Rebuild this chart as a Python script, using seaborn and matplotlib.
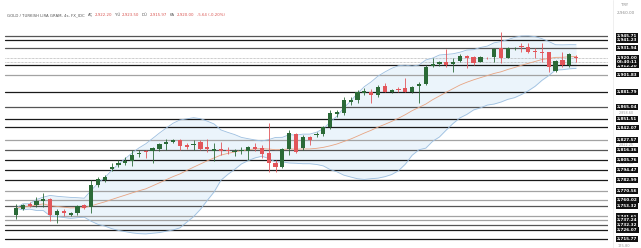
import matplotlib
matplotlib.use("Agg")
import matplotlib.pyplot as plt
import matplotlib.transforms as mtransforms
from matplotlib.lines import Line2D
import numpy as np
import pandas as pd
import seaborn as sns

# ---------------- data ----------------
opens = [2743.2, 2750.3, 2755.2, 2754.1, 2759.3, 2760.9, 2743.2, 2747.3, 2743.5, 2745.1,
         2754.1, 2751.9, 2776.7, 2782.7, 2794.8, 2799.7, 2801.6, 2803.8, 2811.7, 2815.8,
         2815.8, 2818.1, 2823.7, 2826.0, 2827.9, 2821.9, 2822.6, 2826.0, 2819.7, 2815.8,
         2817.4, 2816.6, 2814.3, 2815.1, 2815.8, 2819.7, 2818.5, 2812.9, 2801.6, 2797.1,
         2817.4, 2834.7, 2818.5, 2831.0, 2833.2, 2834.3, 2842.3, 2857.3, 2858.8, 2871.2,
         2873.1, 2881.0, 2882.5, 2878.2, 2889.3, 2882.5, 2885.5, 2886.3, 2881.8, 2888.6,
         2890.8, 2911.2, 2913.4, 2915.7, 2913.4, 2917.2, 2922.5, 2921.7, 2916.4, 2920.9,
         2921.7, 2931.5, 2920.9, 2931.3, 2934.5, 2933.3, 2928.5, 2927.7, 2927.0, 2905.9,
         2918.3, 2912.7, 2922.2]
highs = [2755.6, 2755.6, 2758.2, 2763.8, 2768.4, 2761.8, 2749.6, 2749.6, 2746.5, 2754.5,
         2755.6, 2782.7, 2785.8, 2788.0, 2801.6, 2805.3, 2808.4, 2816.6, 2816.6, 2816.6,
         2820.3, 2824.9, 2828.7, 2828.7, 2828.7, 2824.9, 2827.9, 2827.9, 2828.7, 2824.9,
         2826.0, 2819.7, 2817.4, 2820.3, 2821.1, 2824.2, 2822.3, 2846.8, 2805.3, 2818.5,
         2839.2, 2836.2, 2833.6, 2832.4, 2837.3, 2843.7, 2861.8, 2861.8, 2876.2, 2876.2,
         2884.4, 2886.7, 2885.0, 2890.1, 2892.0, 2885.5, 2888.1, 2897.6, 2889.3, 2893.8,
         2912.7, 2920.2, 2917.2, 2930.7, 2920.2, 2924.7, 2924.0, 2923.2, 2922.8, 2921.7,
         2931.5, 2950.3, 2933.3, 2933.0, 2937.2, 2937.2, 2932.2, 2937.2, 2927.7, 2918.3,
         2927.7, 2926.1, 2923.5]
lows = [2738.3, 2748.8, 2752.5, 2751.9, 2752.5, 2736.7, 2733.8, 2742.0, 2742.0, 2743.2,
        2749.6, 2745.1, 2775.1, 2780.4, 2792.5, 2797.7, 2799.3, 2798.5, 2809.0, 2807.2,
        2802.3, 2815.8, 2816.6, 2824.9, 2816.6, 2817.4, 2816.6, 2816.6, 2814.7, 2804.5,
        2811.0, 2812.1, 2809.8, 2812.1, 2805.3, 2815.8, 2807.2, 2792.1, 2792.1, 2795.9,
        2811.0, 2812.9, 2816.6, 2822.3, 2831.6, 2832.4, 2840.0, 2854.2, 2856.2, 2867.5,
        2870.1, 2878.8, 2869.4, 2876.5, 2881.8, 2880.7, 2882.5, 2881.8, 2880.7, 2869.4,
        2890.1, 2910.7, 2911.9, 2910.7, 2904.4, 2916.4, 2908.9, 2912.7, 2915.7, 2919.4,
        2915.7, 2914.6, 2920.2, 2929.6, 2927.7, 2925.9, 2920.2, 2916.4, 2905.1, 2905.1,
        2910.7, 2910.7, 2915.97]
closes = [2750.7, 2754.1, 2753.7, 2759.3, 2760.9, 2743.2, 2748.0, 2745.8, 2745.1, 2753.3,
          2751.1, 2776.7, 2783.8, 2786.4, 2797.1, 2801.6, 2804.5, 2811.0, 2813.6, 2814.3,
          2818.5, 2823.0, 2825.3, 2827.9, 2821.5, 2820.0, 2823.7, 2817.4, 2817.4, 2817.4,
          2815.5, 2815.1, 2815.8, 2816.6, 2819.7, 2818.1, 2811.7, 2802.3, 2797.1, 2817.4,
          2835.5, 2814.7, 2831.6, 2827.9, 2834.7, 2842.3, 2858.1, 2859.5, 2873.1, 2873.1,
          2882.1, 2883.8, 2878.4, 2887.8, 2882.5, 2884.1, 2884.1, 2882.5, 2887.8, 2891.5,
          2910.7, 2913.4, 2915.7, 2912.7, 2916.4, 2922.8, 2920.9, 2914.6, 2921.7, 2920.2,
          2930.7, 2920.2, 2931.5, 2931.9, 2933.0, 2927.7, 2927.0, 2926.2, 2910.7, 2917.2,
          2912.7, 2925.64, 2920.00]

levels = [2945.71, 2941.23, 2931.94, 2912.20, 2901.83, 2881.79, 2865.04, 2851.51,
          2842.07, 2827.57, 2816.36, 2805.76, 2794.47, 2782.99, 2770.56, 2760.02,
          2753.32, 2741.61, 2737.24, 2732.32, 2726.07, 2715.77]
level_tone = ["dark", "black", "dark", "black", "gray", "black", "dark", "black",
              "black", "gray", "dark", "black", "black", "black", "gray", "gray",
              "dark", "gray", "gray", "dark", "black", "black"]

side_values = [2858.60, 2822.25, 2801.80]   # faint grey scale values
dotted_values = [2920.00, 2916.40]
header_prefix = "GOLD / TURKISH LIRA GRAM, 4s, FX_IDC"
header_ohlc = [("AÇ", "2,922.20"), ("YÜ", "2,923.50"), ("DÜ", "2,915.97"), ("KA", "2,920.00")]
header_change = "-5.64 (-0.20%)"
countdown = "03:40:11"

# ---------------- figure ----------------
sns.set_theme(style="white")
plt.rcParams['font.family'] = ['DejaVu Sans']

W, H = 641, 248
fig = plt.figure(figsize=(W / 100, H / 100), dpi=100)
fig.patch.set_facecolor("white")
ax_w = 608
ax = fig.add_axes([0, 0, ax_w / W, 1])
ax.set_facecolor("white")

n = len(closes)
idx = np.arange(n)
df = pd.DataFrame({"i": idx, "open": opens, "high": highs, "low": lows, "close": closes})
mid = df["close"].rolling(20, min_periods=1).mean()
sd = df["close"].rolling(20, min_periods=1).std(ddof=0)
df["mid"] = mid
df["upper"] = mid + 2 * sd
df["lower"] = mid - 2 * sd

# axes scale
spacing = 6.83
ax.set_xlim(-16 / spacing, (ax_w - 16) / spacing)
ax.set_ylim(2986.1 - 1.13 * H, 2986.1)

# horizontal levels
tone_col = {"black": "#1a1a1a", "dark": "#555555", "gray": "#a3a3a3"}
for lv, tn in zip(levels, level_tone):
    ax.axhline(lv, xmin=5 / ax_w, xmax=1.0, color=tone_col[tn], lw=0.9, zorder=1.5)
for dv in dotted_values:
    ax.axhline(dv, xmin=5 / ax_w, xmax=1.0, color="#9a9a9a", lw=0.5, ls=(0, (1, 1)), zorder=1.6)

# bollinger bands
ax.fill_between(df["i"], df["lower"], df["upper"], color="#e9f3fb", alpha=0.9, lw=0, zorder=1)
sns.lineplot(data=df, x="i", y="upper", ax=ax, color="#9dbfe0", lw=0.6, zorder=2)
sns.lineplot(data=df, x="i", y="lower", ax=ax, color="#9dbfe0", lw=0.6, zorder=2)
sns.lineplot(data=df, x="i", y="mid", ax=ax, color="#e8a482", lw=0.6, zorder=2)

# candles
up_col, dn_col = "#2b6a37", "#e2555a"
cols = [up_col if c >= o else dn_col for o, c in zip(opens, closes)]
bottoms = np.minimum(df["open"], df["close"])
heights = np.maximum(np.abs(df["close"] - df["open"]), 0.9)
ax.vlines(df["i"], df["low"], df["high"], colors=cols, lw=0.6, zorder=3)
ax.bar(df["i"], heights, bottom=bottoms, width=0.62, color=cols, lw=0, zorder=4)

ax.set_xticks([])
ax.set_yticks([])
ax.set_xlabel("")
ax.set_ylabel("")
for s in ax.spines.values():
    s.set_visible(False)

# right price scale
tr = mtransforms.blended_transform_factory(ax.transAxes, ax.transData)
lx = 617 / ax_w
for lv in levels:
    ax.text(lx, lv, f"{lv:,.2f}", transform=tr, ha="left", va="center", fontsize=3.0,
            color="white", fontweight="bold", clip_on=False, zorder=10,
            bbox=dict(boxstyle="square,pad=0.22", fc="#111111", ec="none"))
last = closes[-1]
ax.text(lx, last - 1.6, f"{last:,.2f}\n{countdown}", transform=tr, ha="left", va="center",
        fontsize=3.0, color="white", fontweight="bold", clip_on=False, zorder=11,
        linespacing=1.0, bbox=dict(boxstyle="square,pad=0.22", fc="#111111", ec="none"))
for sv in side_values:
    ax.text(lx + 0.003, sv, f"{sv:,.2f}", transform=tr, ha="left", va="center", fontsize=2.4,
            color="#9a9a9a", clip_on=False, zorder=9)

fig.add_artist(Line2D([613 / W, 613 / W], [0, 1], color="#ececec", lw=0.6))
fig.text(621 / W, 1 - 5 / H, "TRY", fontsize=2.8, color="#8a8a8a", va="center", ha="left")
fig.text(617 / W, 1 - 13 / H, "2,960.00", fontsize=3.0, color="#8a8a8a", va="center", ha="left")
fig.text(618 / W, 1 - 246 / H, "175.80", fontsize=2.6, color="#9a9a9a", va="center", ha="left")

# header, laid out piece by piece
fig.canvas.draw()
rend = fig.canvas.get_renderer()
hy = 1 - 15 / H
pieces = [(header_prefix, "#555555", 3.0)]
for lab, val in header_ohlc:
    pieces.append((lab, "#555555", 1.5))
    pieces.append((val, "#d9534f", 3.0))
pieces.append((header_change, "#d9534f", 0))
xpix = 7.0
for txt, col, gap in pieces:
    t = fig.text(xpix / W, hy, txt, fontsize=2.8, color=col, va="center", ha="left")
    bb = t.get_window_extent(rend)
    xpix = bb.x1 + gap

fig.savefig("out.png", dpi=100, facecolor="white")
